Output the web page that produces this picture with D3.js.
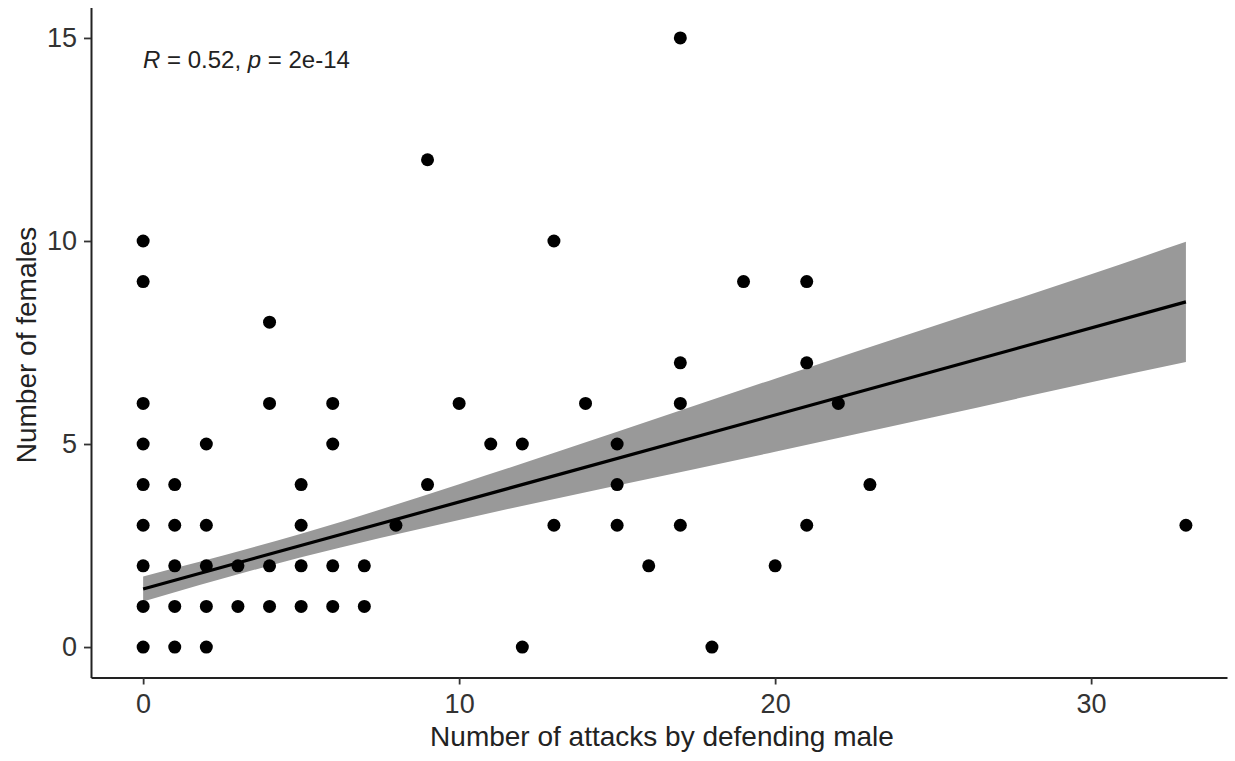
<!DOCTYPE html>
<html>
<head>
<meta charset="utf-8">
<script src="https://cdn.jsdelivr.net/npm/d3@7"></script>
<style>
  body { margin: 0; background: #fff; }
  svg { display: block; font-family: "Liberation Sans", Arial, sans-serif; }
</style>
</head>
<body>
<script>
// points (attacks, females)
const attacks = [0,0,0,0,0,0,0,0,0, 1,1,1,1,1, 2,2,2,2,2, 3,3, 4,4,4,4, 5,5,5,5, 6,6,6,6, 7,7,
                 8, 9,9, 10, 11, 12,12, 13,13, 14, 15,15,15, 16, 17,17,17,17, 18, 19, 20, 21,21,21, 22, 23, 33];
const females = [0,1,2,3,4,5,6,9,10, 0,1,2,3,4, 0,1,2,3,5, 1,2, 1,2,6,8, 1,2,3,4, 1,2,5,6, 1,2,
                 3, 4,12, 6, 5, 0,5, 3,10, 6, 3,4,5, 2, 3,6,7,15, 0, 9, 2, 3,7,9, 6, 4, 3];

// regression line and confidence band
const fitX = [0, 33];
const fitY = [1.43, 8.50];
const bandX = [0, 5, 10, 15, 20, 25, 30, 33];
const bandLo = [1.12, 2.21, 3.13, 3.98, 4.81, 5.66, 6.52, 7.02];
const bandHi = [1.74, 2.79, 4.01, 5.30, 6.61, 7.90, 9.18, 9.98];

const xTicks = [0, 10, 20, 30];
const yTicks = [0, 5, 10, 15];

const w = 1235, h = 761;

const x = d3.scaleLinear().domain([-1.65, 34.3]).range([91, 1227]);
const y = d3.scaleLinear().domain([-0.75, 15.75]).range([677.5, 7.5]);

const svg = d3.select("body").append("svg")
    .attr("width", w)
    .attr("height", h);

// band
const band = bandX.map((d, i) => [d, bandLo[i], bandHi[i]]);
svg.append("path")
    .datum(band)
    .attr("d", d3.area()
        .x(d => x(d[0]))
        .y0(d => y(d[1]))
        .y1(d => y(d[2]))
        .curve(d3.curveMonotoneX))
    .attr("fill", "#999999");

// points
svg.selectAll("circle")
    .data(attacks.map((d, i) => [d, females[i]]))
    .enter()
    .append("circle")
    .attr("cx", d => x(d[0]))
    .attr("cy", d => y(d[1]))
    .attr("r", 6.5)
    .attr("fill", "#000");

// fit line
svg.append("path")
    .datum(fitX.map((d, i) => [d, fitY[i]]))
    .attr("d", d3.line().x(d => x(d[0])).y(d => y(d[1])))
    .attr("stroke", "#000")
    .attr("stroke-width", 3.2)
    .attr("fill", "none");

// axes
const xAxis = svg.append("g")
    .attr("transform", "translate(0," + y.range()[0] + ")")
    .call(d3.axisBottom(x).tickValues(xTicks).tickSize(7).tickPadding(9).tickSizeOuter(0));
const yAxis = svg.append("g")
    .attr("transform", "translate(" + x.range()[0] + ",0)")
    .call(d3.axisLeft(y).tickValues(yTicks).tickSize(7).tickPadding(7).tickSizeOuter(0));

[xAxis, yAxis].forEach(g => {
    g.select(".domain").attr("stroke", "#222").attr("stroke-width", 2);
    g.selectAll(".tick line").attr("stroke", "#333").attr("stroke-width", 1.8);
    g.selectAll(".tick text")
        .attr("fill", "#333")
        .style("font-size", "27px")
        .style("font-family", "Liberation Sans, Arial, sans-serif");
});

// axis titles
svg.append("text")
    .attr("x", 662)
    .attr("y", 746)
    .attr("text-anchor", "middle")
    .attr("fill", "#222")
    .style("font-size", "28px")
    .text("Number of attacks by defending male");

svg.append("text")
    .attr("transform", "translate(36,345) rotate(-90)")
    .attr("text-anchor", "middle")
    .attr("fill", "#222")
    .style("font-size", "28px")
    .text("Number of females");

// correlation label
const lab = svg.append("text")
    .attr("x", 143)
    .attr("y", 68)
    .attr("fill", "#222")
    .style("font-size", "24px");
lab.append("tspan").style("font-style", "italic").text("R");
lab.append("tspan").text(" = 0.52, ");
lab.append("tspan").style("font-style", "italic").text("p");
lab.append("tspan").text(" = 2e-14");
</script>
</body>
</html>
